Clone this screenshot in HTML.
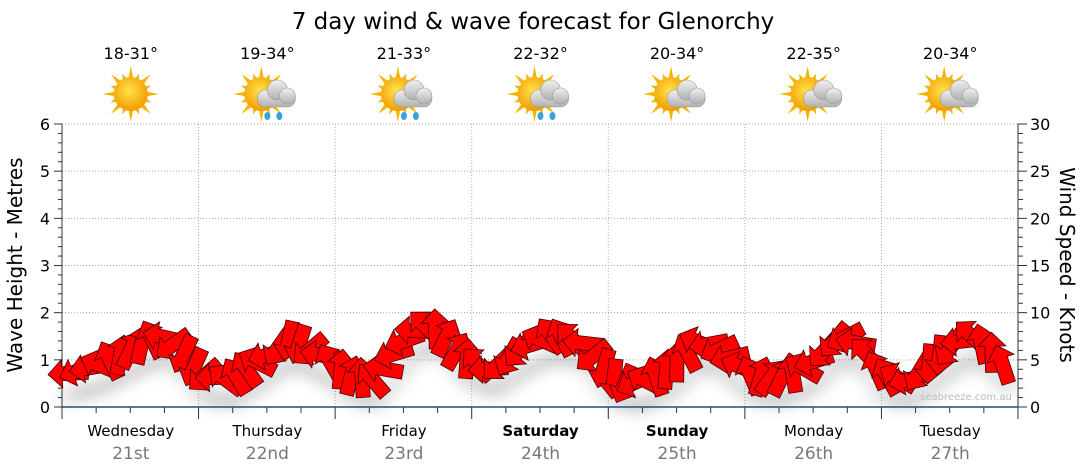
<!DOCTYPE html>
<html><head><meta charset="utf-8"><style>
body{margin:0;background:#fff;}
svg{display:block;font-family:"DejaVu Sans",Verdana,sans-serif;}
</style></head><body>
<svg id="s" width="1080" height="475" viewBox="0 0 1080 475" xmlns="http://www.w3.org/2000/svg">
<defs>
<filter id="sh" x="-50%" y="-50%" width="200%" height="200%"><feGaussianBlur stdDeviation="7"/></filter>
<radialGradient id="sun" cx="45%" cy="40%" r="60%"><stop offset="0" stop-color="#ffe24a"/><stop offset="1" stop-color="#f29b00"/></radialGradient>
<linearGradient id="cl" x1="0" y1="0" x2="0" y2="1"><stop offset="0" stop-color="#f0f0f0"/><stop offset="1" stop-color="#b0b0b0"/></linearGradient>
</defs>
<text x="533" y="29" font-size="23" text-anchor="middle" fill="#000">7 day wind &amp; wave forecast for Glenorchy</text>
<g id="g"></g>
<text x="966" y="400" font-size="10" fill="#bbb" text-anchor="middle">seabreeze.com.au</text>
<text transform="translate(22,265) rotate(-90)" font-size="20" text-anchor="middle">Wave Height - Metres</text>
<text transform="translate(1060,265) rotate(90)" font-size="20" text-anchor="middle">Wind Speed - Knots</text>
</svg>
<script>
const g=document.getElementById('g');let h='';
const X0=62,X1=1018,Y0=407,Y6=124,py=(Y0-Y6)/6;
for(let i=1;i<=6;i++){const y=Y0-i*py;h+=`<line x1="${X0}" y1="${y}" x2="${X1}" y2="${y}" stroke="#aaa" stroke-dasharray="1,2"/>`;}
const dw=(X1-X0)/7;
for(let d=1;d<7;d++){const x=X0+d*dw;h+=`<line x1="${x}" y1="${Y6}" x2="${x}" y2="${Y0}" stroke="#aaa" stroke-dasharray="1,2"/>`;}
for(let i=0;i<=6;i++){const y=Y0-i*py;h+=`<text x="50" y="${y+6}" font-size="16" text-anchor="end">${i}</text>`;}
for(let i=0;i<=30;i++){const y=Y0-i*py/5;h+=`<line x1="${X1}" y1="${y}" x2="${X1+(i%5?5:9)}" y2="${y}" stroke="#333"/>`;if(i%5==0)h+=`<text x="1030" y="${y+6}" font-size="16">${i}</text>`;}
for(let i=0;i<=30;i++){const y=Y0-i*py/5;h+=`<line x1="${X0-(i%5?4:8)}" y1="${y}" x2="${X0}" y2="${y}" stroke="#333"/>`;}
h+=`<line x1="${X0}" y1="${Y6}" x2="${X0}" y2="${Y0}" stroke="#333"/><line x1="${X1}" y1="${Y6}" x2="${X1}" y2="${Y0}" stroke="#333"/>`;
for(let i=0;i<=28;i++){const x=X0+i*dw/4;h+=`<line x1="${x}" y1="${Y0}" x2="${x}" y2="${Y0+(i%4?6:12)}" stroke="#333"/>`;}
const days=[["Wednesday","21st",0],["Thursday","22nd",0],["Friday","23rd",0],["Saturday","24th",1],["Sunday","25th",1],["Monday","26th",0],["Tuesday","27th",0]];
const temps=["18-31°","19-34°","21-33°","22-32°","20-34°","22-35°","20-34°"];
const rain=[0,1,1,1,0,0,0],cloud=[0,1,1,1,1,1,1];
days.forEach((d,i)=>{const cx=X0+dw*(i+.5)+0.5;
h+=`<text x="${cx}" y="436" font-size="15" text-anchor="middle" ${d[2]?'font-weight="bold"':''}>${d[0]}</text>`;
h+=`<text x="${cx}" y="459" font-size="17" text-anchor="middle" fill="#777">${d[1]}</text>`;
h+=`<text x="${cx}" y="59" font-size="16" text-anchor="middle">${temps[i]}</text>`;
const sx=cx-(cloud[i]?6:0),sy=94;let rays='';
for(let k=0;k<16;k++){const a=k*Math.PI/8,r=k%2?22:28;rays+=`<polygon points="${sx+Math.cos(a)*r},${sy+Math.sin(a)*r} ${sx+Math.cos(a+.2)*14},${sy+Math.sin(a+.2)*14} ${sx+Math.cos(a-.2)*14},${sy+Math.sin(a-.2)*14}" fill="#f5b400"/>`;}
h+=rays+`<circle cx="${sx}" cy="${sy}" r="17" fill="url(#sun)"/>`;
if(cloud[i]){h+=`<g fill="url(#cl)" stroke="#999" stroke-width=".6"><rect x="${cx-10}" y="${sy-4}" width="38" height="17" rx="8"/><circle cx="${cx+10}" cy="${sy-4}" r="10"/><circle cx="${cx+20}" cy="${sy+2}" r="8"/></g>`;}
if(rain[i]){h+=`<ellipse cx="${cx}" cy="${sy+22}" rx="3" ry="4" fill="#3aa0e0"/><ellipse cx="${cx+12}" cy="${sy+22}" rx="3" ry="4" fill="#3aa0e0"/>`;}
});
const pts=[[62,375],[100,365],[140,345],[160,335],[180,350],[200,375],[230,380],[260,360],[290,340],[320,355],[350,375],[375,380],[400,345],[420,325],[440,330],[460,355],[490,370],[520,350],[550,335],[580,340],[600,365],[620,385],[650,380],[680,360],[700,340],[720,350],[750,375],[780,378],[810,365],[840,335],[860,345],[880,375],[910,380],[940,355],[970,335],[990,350],[1012,375]];
function fy(x){for(let i=0;i<pts.length-1;i++){if(x<=pts[i+1][0]){const t=(x-pts[i][0])/(pts[i+1][0]-pts[i][0]);return pts[i][1]+t*(pts[i+1][1]-pts[i][1]);}}return 375;}
let sh='',ar='';
for(let x=X0+6;x<=1012;x+=10.5){const y=fy(x);
const ang=200+75*Math.sin(x/17)+35*Math.sin(x/53);
sh+=`<ellipse cx="${x+4}" cy="${y+22}" rx="14" ry="8" fill="#000" opacity=".10"/>`;
ar+=`<polygon transform="translate(${x},${y}) rotate(${ang})" points="20,0 6,-14 6,-7 -20,-7 -20,7 6,7 6,14" fill="#ff0000" stroke="#400" stroke-width=".8"/>`;}
h+=`<g filter="url(#sh)">${sh}</g>${ar}`;
h+=`<line x1="${X0}" y1="${Y0}" x2="${X1}" y2="${Y0}" stroke="#1d4f7a" stroke-width="1.5"/>`;
g.innerHTML=h;
</script>
</body></html>
